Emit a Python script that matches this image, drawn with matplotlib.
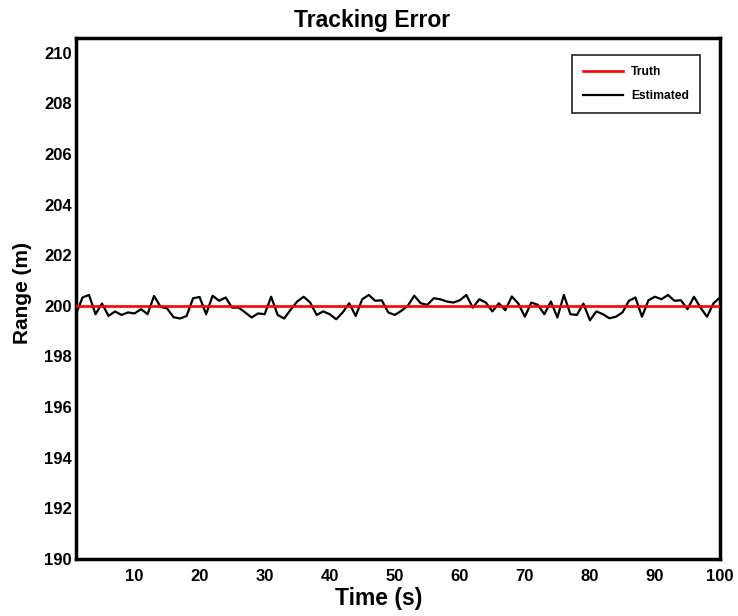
import matplotlib
matplotlib.use("Agg")
import matplotlib.pyplot as plt
import numpy as np

plt.rcParams['font.family'] = ['Liberation Sans', 'DejaVu Sans']
plt.rcParams['font.weight'] = 'bold'

time_s = list(range(1, 101))
truth = [200.0] * 100
estimated = [
    199.67, 200.33, 200.43, 199.67, 200.09, 199.60, 199.78, 199.64, 199.74, 199.70,
    199.87, 199.67, 200.39, 199.96, 199.90, 199.55, 199.50, 199.60, 200.30, 200.35,
    199.67, 200.40, 200.20, 200.33, 199.93, 199.93, 199.74, 199.54, 199.70, 199.67,
    200.36, 199.64, 199.50, 199.85, 200.17, 200.36, 200.13, 199.64, 199.78, 199.67,
    199.47, 199.74, 200.10, 199.60, 200.26, 200.43, 200.20, 200.22, 199.74, 199.64,
    199.80, 200.00, 200.40, 200.10, 200.04, 200.30, 200.26, 200.17, 200.13, 200.22,
    200.43, 199.93, 200.26, 200.13, 199.78, 200.10, 199.83, 200.37, 200.09, 199.57,
    200.13, 200.04, 199.67, 200.17, 199.54, 200.43, 199.67, 199.64, 200.09, 199.43,
    199.78, 199.67, 199.51, 199.57, 199.74, 200.20, 200.33, 199.57, 200.22, 200.36,
    200.26, 200.43, 200.20, 200.22, 199.87, 200.36, 199.93, 199.57, 200.10, 200.33,
]
xticks = [10, 20, 30, 40, 50, 60, 70, 80, 90, 100]
yticks = [190, 192, 194, 196, 198, 200, 202, 204, 206, 208, 210]

fig = plt.figure(figsize=(7.38, 6.16), dpi=100)
ax = fig.add_axes([76/738, 57/616, 644/738, 521/616])

ax.plot(time_s, truth, color='#ff0000', lw=1.9, label='Truth', zorder=3)
ax.plot(time_s, estimated, color='black', lw=1.6, label='Estimated', zorder=2)

ax.set_xlim(1, 100)
ax.set_ylim(190, 210.58)
ax.set_xticks(xticks)
ax.set_yticks(yticks)
ax.tick_params(length=0, labelsize=12)
ax.tick_params(axis='x', pad=7)
ax.tick_params(axis='y', pad=3)
for lbl in ax.get_xticklabels() + ax.get_yticklabels():
    lbl.set_fontweight('bold')
for sp in ax.spines.values():
    sp.set_linewidth(2.5)

ax.set_title('Tracking Error', fontsize=16.5, fontweight='bold', pad=8, x=0.46)
ax.set_xlabel('Time (s)', fontsize=16.5, fontweight='bold')
ax.xaxis.set_label_coords(0.47, -0.054, transform=ax.transAxes)
ax.xaxis.label.set_va('top')
ax.set_ylabel('Range (m)', fontsize=15, fontweight='bold')
ax.yaxis.set_label_coords(-0.068, 0.51, transform=ax.transAxes)

leg = ax.legend(loc='upper right', bbox_to_anchor=(0.969, 0.967), borderaxespad=0,
                fontsize=8.7, frameon=True, fancybox=False, edgecolor='black',
                handlelength=3.3, borderpad=0.9, labelspacing=1.0, handletextpad=0.7)
leg.get_frame().set_linewidth(1.3)
for t in leg.get_texts():
    t.set_fontweight('bold')

fig.savefig('out.png', dpi=100)
